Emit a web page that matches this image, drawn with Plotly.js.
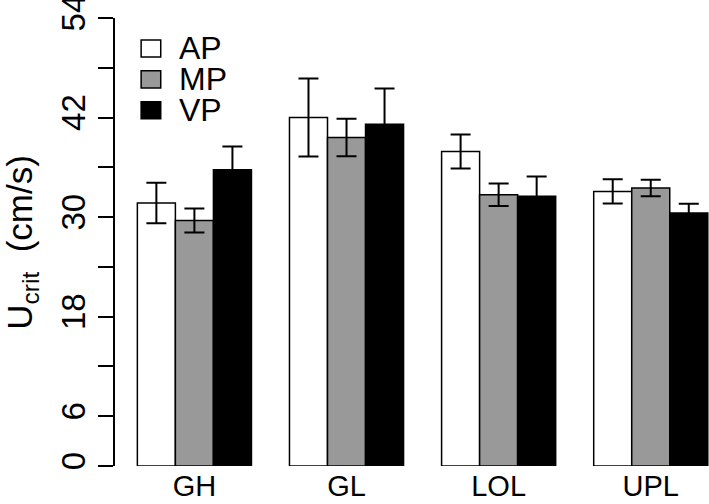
<!DOCTYPE html>
<html>
<head>
<meta charset="utf-8">
<script src="https://cdn.plot.ly/plotly-3.0.1.min.js"></script>
<style>
  body { margin: 0; background: #fff; }
  #myDiv { width: 709px; height: 504px; }
</style>
</head>
<body>
<div id="myDiv"></div>
<script>
var groups = ['GH', 'GL', 'LOL', 'UPL'];

var seriesNames = ['AP', 'MP', 'VP'];
var seriesColors = ['#ffffff', '#999999', '#000000'];

var apValues = [31.7, 42.0, 37.9, 33.1];
var apErrors = [2.45, 4.7, 2.05, 1.45];

var mpValues = [29.6, 39.6, 32.7, 33.5];
var mpErrors = [1.45, 2.25, 1.35, 1.0];

var vpValues = [35.7, 41.2, 32.5, 30.5];
var vpErrors = [2.8, 4.3, 2.4, 1.1];

var yTicks = [0, 6, 12, 18, 24, 30, 36, 42, 48, 54];
var yTickText = ['0', '6', '', '18', '', '30', '', '42', '', '54'];

var graphDiv = document.getElementById('myDiv');
var fontFamily = 'Liberation Sans, Arial, sans-serif';

function makeTrace(i, values, errors) {
    return {
        x: groups,
        y: values,
        name: seriesNames[i],
        type: 'bar',
        showlegend: false,
        marker: {
            color: seriesColors[i],
            line: {color: 'black', width: 1.5}
        },
        error_y: {
            type: 'data',
            array: errors,
            visible: true,
            color: 'black',
            thickness: 2,
            width: 10
        }
    };
}

var data = [
    makeTrace(0, apValues, apErrors),
    makeTrace(1, mpValues, mpErrors),
    makeTrace(2, vpValues, vpErrors)
];

// R style legend in the top-left corner (plotly legend rows are too tall here)
var shapes = [];
var annotations = [];
for (var i = 0; i < seriesNames.length; i++) {
    var yTop = 0.951 - i * 0.069;
    shapes.push({
        type: 'rect',
        xref: 'paper', yref: 'paper',
        x0: 0.044, x1: 0.077,
        y0: yTop - 0.038, y1: yTop,
        fillcolor: seriesColors[i],
        line: {color: 'black', width: 1.5}
    });
    annotations.push({
        xref: 'paper', yref: 'paper',
        x: 0.105, y: yTop - 0.019,
        xanchor: 'left', yanchor: 'middle',
        text: seriesNames[i],
        showarrow: false,
        font: {family: fontFamily, size: 32, color: 'black'}
    });
}

// y title as annotation so it can sit where R put it
annotations.push({
    xref: 'paper', yref: 'paper',
    x: -0.157, y: 0.5,
    xanchor: 'center', yanchor: 'middle',
    textangle: -90,
    text: 'U<sub>crit</sub>  (cm/s)',
    showarrow: false,
    font: {family: fontFamily, size: 35, color: 'black'}
});

var layout = {
    width: 709,
    height: 504,
    margin: {l: 115, r: 0, t: 18, b: 38},
    paper_bgcolor: 'white',
    plot_bgcolor: 'white',
    font: {family: fontFamily, size: 29, color: 'black'},
    barmode: 'group',
    bargap: 0.25,
    bargroupgap: 0,
    showlegend: false,
    shapes: shapes,
    annotations: annotations,
    xaxis: {
        type: 'category',
        range: [-0.522, 3.383],
        showline: false,
        showgrid: false,
        zeroline: false,
        ticks: '',
        tickfont: {family: fontFamily, size: 29}
    },
    yaxis: {
        range: [0, 54],
        tickmode: 'array',
        tickvals: yTicks,
        ticktext: yTickText,
        tickangle: -90,
        ticks: 'outside',
        ticklen: 15,
        tickwidth: 1.5,
        tickcolor: 'black',
        ticklabeloverflow: 'allow',
        showline: true,
        linecolor: 'black',
        linewidth: 1.5,
        showgrid: false,
        zeroline: false,
        tickfont: {family: fontFamily, size: 33}
    }
};

Plotly.newPlot(graphDiv, data, layout, {displayModeBar: false});
</script>
</body>
</html>
